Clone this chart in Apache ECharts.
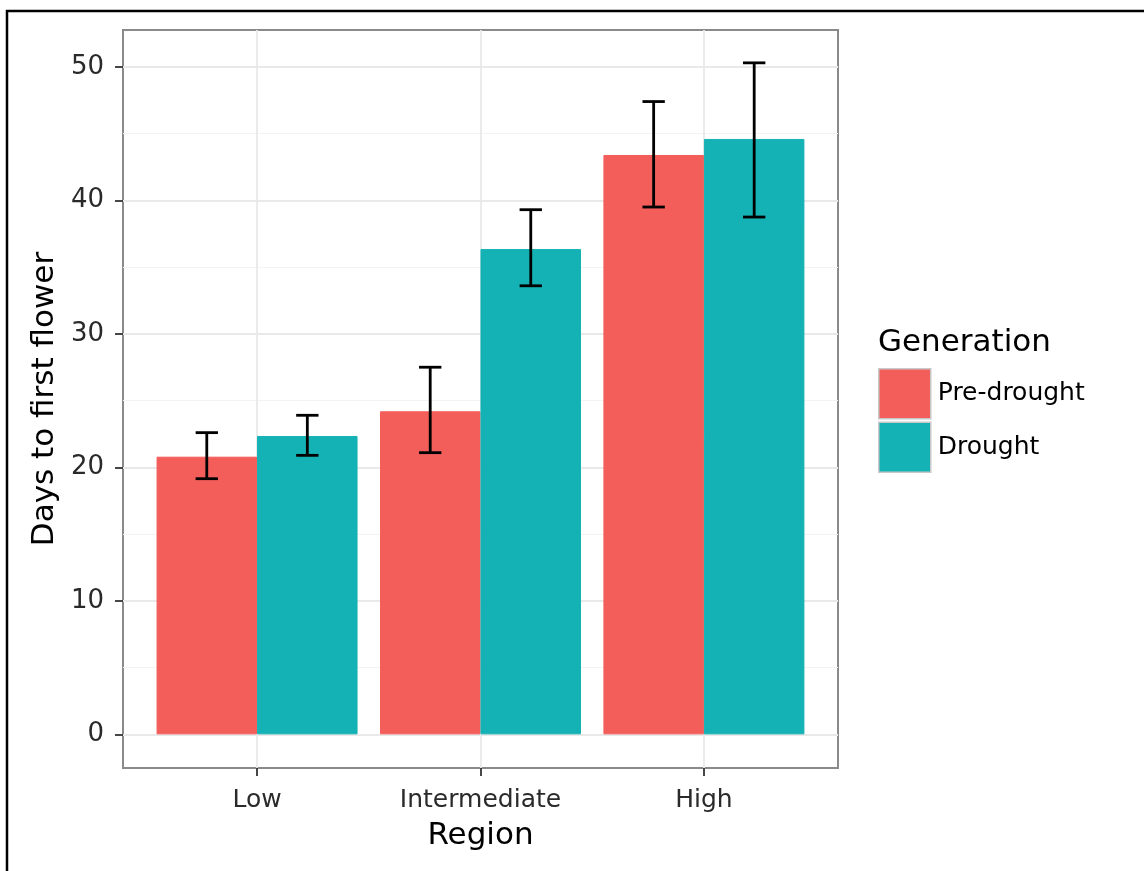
<!DOCTYPE html>
<html>
<head>
<meta charset="utf-8">
<script src="https://cdn.jsdelivr.net/npm/echarts@6/dist/echarts.min.js"></script>
<style>html,body{margin:0;padding:0;background:#fff}#c{width:1144px;height:871px}</style>
</head>
<body>
<div id="c"></div>
<script>
const categories = ['Low', 'Intermediate', 'High'];
const seriesNames = ['Pre-drought', 'Drought'];
const preMean = [20.8, 24.2, 43.4];
const preLow  = [19.15, 21.1, 39.5];
const preHigh = [22.6, 27.5, 47.4];
const drMean  = [22.35, 36.35, 44.6];
const drLow   = [20.9, 33.6, 38.75];
const drHigh  = [23.9, 39.3, 50.3];
const yTicks = [0, 10, 20, 30, 40, 50];
const yMinor = [5, 15, 25, 35, 45];

const FONT = 'DejaVu Sans';
const RED = '#F35E5A';
const TEAL = '#15B2B5';
const yMin = -2.52, yMax = 52.76;

const chart = echarts.init(document.getElementById('c'));

function errData(lo, hi, sign) {
  return categories.map((c, i) => [i, lo[i], hi[i], sign]);
}
function renderErr(params, api) {
  const ci = api.value(0), lo = api.value(1), hi = api.value(2), sign = api.value(3);
  const band = api.size([1, 0])[0];
  const pLo = api.coord([ci, lo]);
  const pHi = api.coord([ci, hi]);
  const cx = pLo[0] + sign * band * 0.225;
  const hw = band * 0.05;
  const st = { stroke: '#000', lineWidth: 2.8 };
  return {
    type: 'group',
    children: [
      { type: 'line', shape: { x1: cx, y1: pLo[1], x2: cx, y2: pHi[1] }, style: st },
      { type: 'line', shape: { x1: cx - hw, y1: pLo[1], x2: cx + hw, y2: pLo[1] }, style: st },
      { type: 'line', shape: { x1: cx - hw, y1: pHi[1], x2: cx + hw, y2: pHi[1] }, style: st }
    ]
  };
}

const option = {
  backgroundColor: '#fff',
  animation: false,
  grid: [
    { left: 123, top: 30, width: 715, height: 738, show: true, borderColor: '#8a8a8a', borderWidth: 2, backgroundColor: 'transparent' },
    { left: 145.34, top: 30, width: 670.3, height: 738 }
  ],
  xAxis: [
    { gridIndex: 0, type: 'value', min: 0, max: 1, show: false },
    {
      gridIndex: 1, type: 'category', data: categories, boundaryGap: true, position: 'bottom',
      axisLine: { show: false, onZero: false },
      axisTick: { show: true, alignWithLabel: true, length: 8, lineStyle: { color: '#333', width: 1.8 } },
      axisLabel: { margin: 20, color: '#2a2a2a', fontFamily: FONT, fontSize: 25 },
      splitLine: { show: false },
      name: 'Region', nameLocation: 'middle', nameGap: 52,
      nameTextStyle: { color: '#000', fontFamily: FONT, fontSize: 31 }
    }
  ],
  yAxis: [
    {
      gridIndex: 0, type: 'value', min: yMin, max: yMax,
      axisLine: { show: false, onZero: false },
      axisTick: { show: true, customValues: yTicks, length: 8, lineStyle: { color: '#333', width: 1.8 } },
      axisLabel: { customValues: yTicks, margin: 19, color: '#2a2a2a', fontFamily: FONT, fontSize: 26 },
      splitLine: { show: false },
      name: 'Days to first flower', nameLocation: 'middle', nameGap: 63,
      nameTextStyle: { color: '#000', fontFamily: FONT, fontSize: 31 }
    },
    { gridIndex: 1, type: 'value', min: yMin, max: yMax, show: false }
  ],
  legend: {
    data: seriesNames,
    orient: 'vertical',
    left: 878, top: 368, padding: 0,
    itemWidth: 52, itemHeight: 50, itemGap: 2,
    icon: 'rect',
    itemStyle: { borderColor: '#c8c8c8', borderWidth: 1.5 },
    textStyle: { color: '#000', fontFamily: FONT, fontSize: 25, padding: [0, 0, 0, 2] }
  },
  graphic: [
    { type: 'rect', shape: { x: 7, y: 11, width: 1300, height: 1000 }, style: { fill: 'none', stroke: '#000', lineWidth: 2.5 }, silent: true },
    { type: 'text', x: 878, y: 343, style: { text: 'Generation', fill: '#000', font: '31px "DejaVu Sans"', textAlign: 'left', textVerticalAlign: 'middle' }, silent: true }
  ],
  series: [
    {
      type: 'line', xAxisIndex: 0, yAxisIndex: 0, data: [], z: 0, silent: true,
      markLine: {
        z: 0, silent: true, symbol: 'none', label: { show: false }, animation: false,
        data: yMinor.map(v => ({ yAxis: v, lineStyle: { color: '#f3f3f3', width: 1.2, type: 'solid' } }))
          .concat(yTicks.map(v => ({ yAxis: v, lineStyle: { color: '#e9e9e9', width: 1.8, type: 'solid' } })))
      }
    },
    {
      type: 'line', xAxisIndex: 1, yAxisIndex: 1, data: [], z: 0, silent: true,
      markLine: {
        z: 0, silent: true, symbol: 'none', label: { show: false }, animation: false,
        data: categories.map(c => ({ xAxis: c, lineStyle: { color: '#e9e9e9', width: 1.8, type: 'solid' } }))
      }
    },
    {
      name: seriesNames[0], type: 'bar', xAxisIndex: 1, yAxisIndex: 1,
      data: preMean, barWidth: 100.5, barGap: '0%',
      itemStyle: { color: RED, borderColor: RED, borderWidth: 1 }, z: 2
    },
    {
      name: seriesNames[1], type: 'bar', xAxisIndex: 1, yAxisIndex: 1,
      data: drMean, barWidth: 100.5, barGap: '0%',
      itemStyle: { color: TEAL, borderColor: TEAL, borderWidth: 1 }, z: 2
    },
    {
      type: 'custom', xAxisIndex: 1, yAxisIndex: 1, renderItem: renderErr,
      data: errData(preLow, preHigh, -1), encode: { x: 0, y: [1, 2] }, z: 5, clip: false, silent: true
    },
    {
      type: 'custom', xAxisIndex: 1, yAxisIndex: 1, renderItem: renderErr,
      data: errData(drLow, drHigh, 1), encode: { x: 0, y: [1, 2] }, z: 5, clip: false, silent: true
    }
  ]
};
chart.setOption(option);
</script>
</body>
</html>
